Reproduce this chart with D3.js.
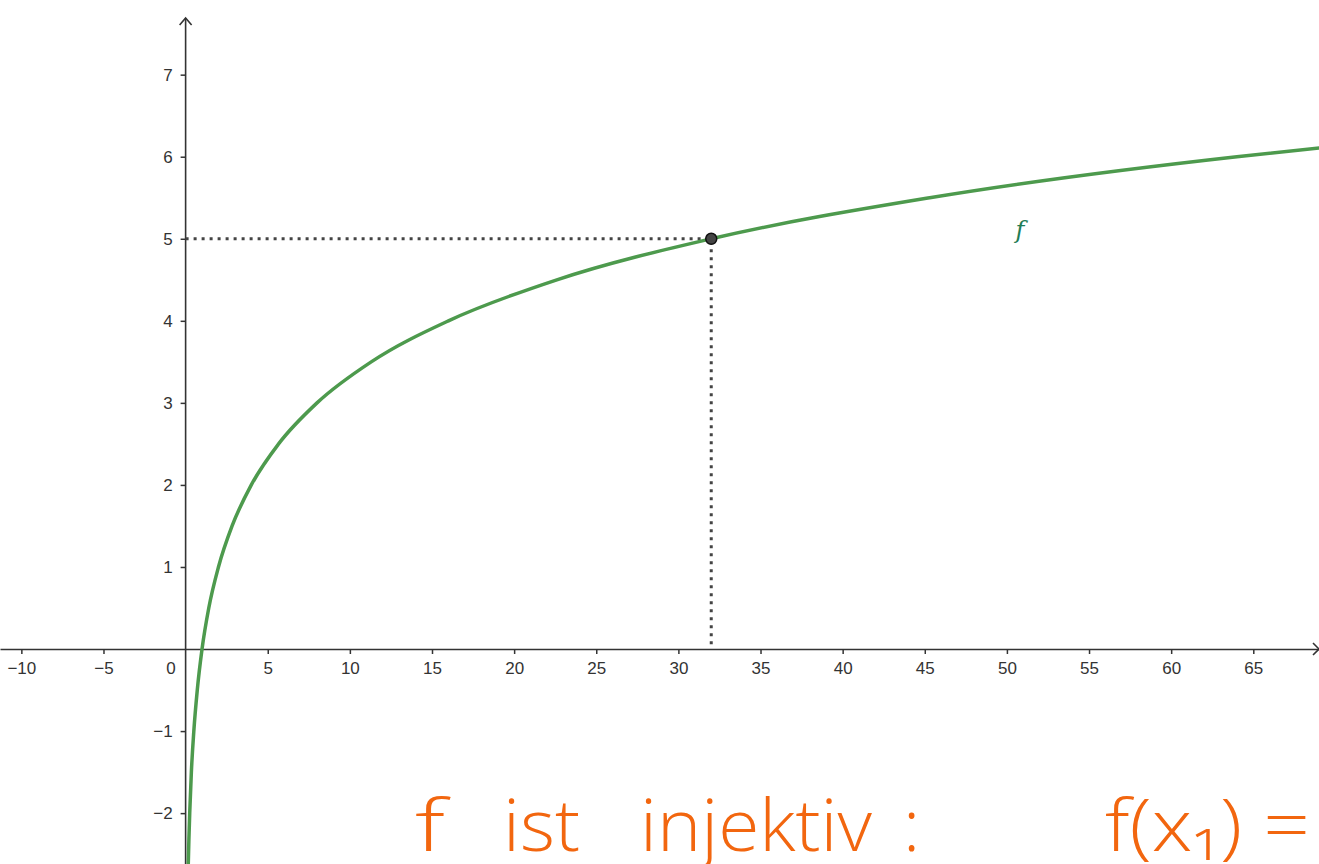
<!DOCTYPE html>
<html>
<head>
<meta charset="utf-8">
<script src="https://cdn.jsdelivr.net/npm/d3@7"></script>
<style>
  body { margin: 0; background: #fff; overflow: hidden; }
  .tick text { font-family: "Liberation Sans", Arial, sans-serif; font-size: 17px; fill: #333; }
  .hand { font-family: "Open Sans", sans-serif; font-weight: 300; fill: #f2660f; font-size: 72px; }
</style>
</head>
<body>
<div id="chart"></div>
<script>
var width = 1319, height = 864;

var curveX = [0.16, 0.2, 0.25, 0.35, 0.5, 0.71, 1, 1.41, 2, 2.83, 4, 5.66, 8, 11.3, 16, 22.6, 32, 45.3, 64, 69.2];
var curveY = [-2.64, -2.32, -2, -1.5, -1, -0.5, 0, 0.5, 1, 1.5, 2, 2.5, 3, 3.5, 4, 4.5, 5, 5.5, 6, 6.11];
var pointX = 32, pointY = 5;
var xTicks = [-10, -5, 5, 10, 15, 20, 25, 30, 35, 40, 45, 50, 55, 60, 65];
var yTicks = [-2, -1, 1, 2, 3, 4, 5, 6, 7];
var noteWords = ["f", "ist", "injektiv", ":", "f(x\u2081) ="];

var svg = d3.select("#chart").append("svg")
  .attr("width", width)
  .attr("height", height);

var x = d3.scaleLinear().domain([-11.3, 69.0]).range([0, width]);
var y = d3.scaleLinear().domain([-2.62, 7.91]).range([height, 0]);

var fmt = function(d) { return d < 0 ? "\u2212" + Math.abs(d) : d; };

// x axis
var xAxis = svg.append("g")
  .attr("transform", `translate(0,${y(0)})`)
  .call(d3.axisBottom(x).tickValues(xTicks).tickSize(5).tickSizeOuter(0).tickPadding(8).tickFormat(fmt));
xAxis.select(".domain").attr("stroke", "#333").attr("stroke-width", 1.6);
xAxis.selectAll(".tick line").attr("stroke", "#333").attr("stroke-width", 1.5);

// y axis
var yAxis = svg.append("g")
  .attr("transform", `translate(${x(0)},0)`)
  .call(d3.axisLeft(y).tickValues(yTicks).tickSize(5).tickSizeOuter(0).tickPadding(8).tickFormat(fmt));
yAxis.select(".domain").remove();
yAxis.selectAll(".tick line").attr("stroke", "#333").attr("stroke-width", 1.5);

svg.append("line")
  .attr("x1", x(0)).attr("x2", x(0))
  .attr("y1", 18).attr("y2", height)
  .attr("stroke", "#333").attr("stroke-width", 1.6);
svg.append("path")
  .attr("d", `M${x(0) - 6},${25} L${x(0)},${18} L${x(0) + 6},${25}`)
  .attr("fill", "none").attr("stroke", "#333").attr("stroke-width", 1.6);
svg.append("path")
  .attr("d", `M${width - 6},${y(0) - 6} L${width},${y(0)} L${width - 6},${y(0) + 6}`)
  .attr("fill", "none").attr("stroke", "#333").attr("stroke-width", 1.6);

svg.append("text")
  .attr("x", x(0) - 10).attr("y", y(0) + 25)
  .attr("text-anchor", "end")
  .style("font-family", "Liberation Sans, Arial, sans-serif")
  .style("font-size", "17px").style("fill", "#333")
  .text("0");

// dotted guides
svg.append("path")
  .attr("d", `M${x(0)},${y(pointY)} H${x(pointX)} V${y(0)}`)
  .attr("fill", "none")
  .attr("stroke", "#444")
  .attr("stroke-width", 3)
  .attr("stroke-dasharray", "3,5");

// curve
var line = d3.line()
  .x(function(d, i) { return x(curveX[i]); })
  .y(function(d) { return y(d); })
  .curve(d3.curveMonotoneX);

svg.append("path")
  .attr("d", line(curveY))
  .attr("fill", "none")
  .attr("stroke", "#4d9a4d")
  .attr("stroke-width", 3.5);

svg.append("circle")
  .attr("cx", x(pointX)).attr("cy", y(pointY))
  .attr("r", 5.5)
  .attr("fill", "#444")
  .attr("stroke", "#111")
  .attr("stroke-width", 1.5);

svg.append("text")
  .attr("x", 1020).attr("y", 238)
  .attr("text-anchor", "middle")
  .style("font-family", "DejaVu Serif, serif")
  .style("font-style", "italic")
  .style("font-size", "24px")
  .style("fill", "#1f7d55")
  .text("f");

// handwritten note
var notePos = [{x: 415, w: 30}, {x: 503, w: 77}, {x: 640, w: 232}, {x: 903, w: 0}, {x: 1105, w: 205}];
svg.selectAll(".hand")
  .data(noteWords)
  .enter()
  .append("text")
  .attr("class", "hand")
  .attr("x", function(d, i) { return notePos[i].x; })
  .attr("y", 851)
  .each(function(d, i) {
    if (notePos[i].w > 0) {
      d3.select(this).attr("textLength", notePos[i].w).attr("lengthAdjust", "spacingAndGlyphs");
    }
  })
  .text(function(d) { return d; });
</script>
</body>
</html>
